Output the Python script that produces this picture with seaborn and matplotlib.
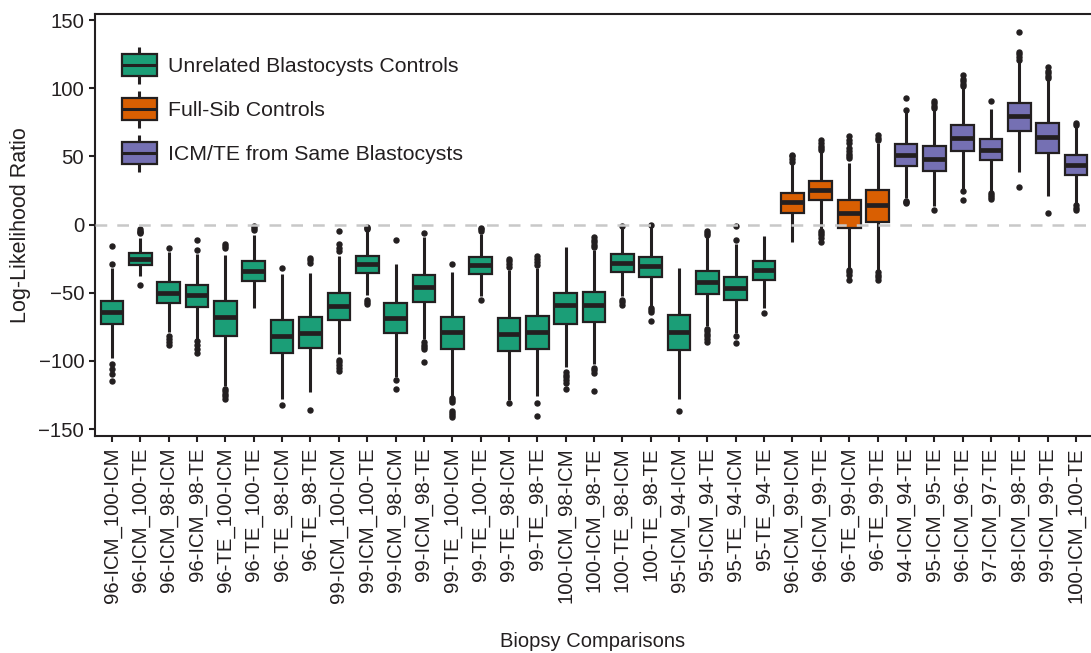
import matplotlib
matplotlib.use("Agg")
import matplotlib.pyplot as plt
from matplotlib.legend_handler import HandlerBase
from matplotlib.patches import Patch, Rectangle
from matplotlib.lines import Line2D
import pandas as pd
import seaborn as sns

# ------------------ DATA ------------------
labels = ["96-ICM_100-ICM", "96-ICM_100-TE", "96-ICM_98-ICM", "96-ICM_98-TE",
          "96-TE_100-ICM", "96-TE_100-TE", "96-TE_98-ICM", "96-TE_98-TE",
          "99-ICM_100-ICM", "99-ICM_100-TE", "99-ICM_98-ICM", "99-ICM_98-TE",
          "99-TE_100-ICM", "99-TE_100-TE", "99-TE_98-ICM", "99-TE_98-TE",
          "100-ICM_98-ICM", "100-ICM_98-TE", "100-TE_98-ICM", "100-TE_98-TE",
          "95-ICM_94-ICM", "95-ICM_94-TE", "95-TE_94-ICM", "95-TE_94-TE",
          "96-ICM_99-ICM", "96-ICM_99-TE", "96-TE_99-ICM", "96-TE_99-TE",
          "94-ICM_94-TE", "95-ICM_95-TE", "96-ICM_96-TE", "97-ICM_97-TE",
          "98-ICM_98-TE", "99-ICM_99-TE", "100-ICM_100-TE"]

group_names = ["Unrelated Blastocysts Controls", "Full-Sib Controls",
               "ICM/TE from Same Blastocysts"]
groups = [group_names[0]] * 24 + [group_names[1]] * 4 + [group_names[2]] * 7

whisk_lo = [-97.6, -37.8, -79, -84, -118.3, -61, -127.6, -122.5, -95.2, -52,
            -111.5, -84.2, -125.7, -52.5, -129, -125.7, -104.2, -102.5, -52.5, -59.8,
            -127.6, -74.4, -79.3, -61, -13, -3.2, -32.4, -34,
            19.5, 13.4, 26.1, 24.4, 38.3, 20.7, 15.4]
q1 = [-73.2, -29.8, -57.8, -60.3, -81.8, -41.5, -94, -90.8, -70, -35.4,
      -79.3, -56.6, -91.5, -35.9, -93, -91.5, -73.2, -71.5, -34.9, -38.6,
      -92, -50.7, -55.4, -41, 8.6, 17.8, -2.4, 1.7,
      42.7, 39, 53.7, 47.1, 69, 52.5, 36.1]
med = [-63.9, -24.9, -50, -52, -67.8, -34.2, -81.7, -79.8, -59.8, -28.6,
       -68.3, -45.9, -78.8, -29.3, -80, -78.8, -59.3, -58.8, -28, -30.5,
       -78.8, -42.2, -46.3, -33.4, 16.6, 25.1, 8.6, 14.1,
       50.7, 48.1, 63.5, 54.9, 79.3, 64.6, 43.4]
q3 = [-56.1, -20.7, -42.2, -44.2, -56.4, -27, -70.3, -67.6, -50.5, -22.7,
      -57.3, -36.8, -67.8, -23.7, -68.6, -66.9, -50.5, -49.5, -21.5, -23.7,
      -66.6, -33.7, -38.3, -26.4, 23.2, 32.2, 17.8, 25.6,
      59.1, 57.3, 72.7, 62.7, 89.5, 74.2, 50.7]
whisk_hi = [-32.2, -9.8, -20, -21.5, -22, -7.3, -35.9, -35.4, -23.2, -5,
            -28.8, -9, -34.6, -7, -33.4, -32, -16.6, -18.3, -2.4, -2,
            -31.7, -8.5, -14.6, -8.5, 44.5, 53.5, 45.2, 59.8,
            82.9, 84.2, 100, 84.7, 119.5, 106.1, 72]
outliers = [
    [-15.9, -28.8, -102.5, -106.1, -109.8, -114.7],
    [-3.5, -4.5, -5.5, -6.5, -44],
    [-17.5, -82, -84, -86, -88],
    [-11.5, -18.3, -85.5, -88, -91, -94.4],
    [-14.6, -16, -17.5, -120.5, -122, -124, -126, -128],
    [-1.2, -2.5, -4],
    [-32.2, -132.3],
    [-24.2, -26, -27.9, -135.9],
    [-4.9, -14.6, -17, -19.5, -99.5, -101, -103, -105, -107.4],
    [-1.5, -2.5, -3.3, -55, -56.5, -58.6],
    [-11.5, -114, -120.8],
    [-6.5, -86.5, -88, -90, -91.5, -101],
    [-28.6, -127.5, -129, -130.5, -136.7, -138.5, -140, -141.5],
    [-2.4, -3.5, -4.5, -55.4],
    [-25.1, -27, -29, -31, -131],
    [-22.7, -25, -27.5, -29.5, -131, -140.3],
    [-108.1, -110, -112, -114, -115.9, -120.3],
    [-9, -11, -13, -15, -16.2, -105, -106.5, -108.6, -122],
    [-0.8, -55.5, -57, -59.3],
    [-0.3, -61.5, -63, -64.2, -71],
    [-136.7],
    [-4.4, -6, -7.5, -76.5, -78, -80, -82, -84, -86.1],
    [-0.7, -11.5, -81.5, -87.1],
    [-65.2],
    [46, 48, 50, 51.2],
    [54.5, 56, 58, 60, 62.2, -4.5, -6, -8, -10, -13],
    [48.5, 50, 52, 54, 56, 60, 62, 65.2, -33.5, -35, -37, -40.3],
    [62, 63.5, 65.9, -35, -37, -38.5, -40.3],
    [84, 92.7, 17.5, 16.5, 15.9],
    [85.5, 87, 89, 90.8, 11],
    [101.5, 103, 105, 107, 109.8, 24.8, 18.3],
    [90.8, 23, 21.5, 20, 18.8],
    [121, 123, 125, 126.9, 141.3, 27.6],
    [107.5, 109, 111, 113, 115.9, 8.6],
    [73, 74.5, 14, 12.5, 10.5],
]

colors = ["#1b9e77", "#d95f02", "#7570b3"]
ink = "#231f20"

# long-form table whose quartiles / whisker ends / outliers reproduce the summaries
rows = []
for i, lab in enumerate(labels):
    vals = ([whisk_lo[i], whisk_hi[i]] + [q1[i]] * 100 + [med[i]] * 100
            + [q3[i]] * 100 + outliers[i])
    for v in vals:
        rows.append((lab, groups[i], v))
df = pd.DataFrame(rows, columns=["Comparison", "Group", "LLR"])


class BoxGlyph(HandlerBase):
    """Legend key drawn as a tiny box with whiskers and median."""
    def create_artists(self, legend, orig_handle, xdescent, ydescent,
                       width, height, fontsize, trans):
        cx = -xdescent + width / 2
        cy = -ydescent + height / 2
        bh = 15.8
        whisker = Line2D([cx, cx], [cy - height / 2, cy + height / 2], color=ink,
                         lw=2.2, solid_capstyle="butt", transform=trans)
        box = Rectangle((cx - width / 2, cy - bh / 2), width, bh,
                        facecolor=orig_handle.get_facecolor(), edgecolor=ink,
                        lw=1.6, transform=trans)
        median = Line2D([cx - width / 2, cx + width / 2], [cy, cy], color=ink,
                        lw=2.2, solid_capstyle="butt", transform=trans)
        return [whisker, box, median]


# ------------------ PLOTTING ------------------
sns.set_style("ticks")
plt.rcParams["font.family"] = ["Liberation Sans", "DejaVu Sans"]
plt.rcParams["text.color"] = ink
plt.rcParams["axes.labelcolor"] = ink
plt.rcParams["xtick.color"] = ink
plt.rcParams["ytick.color"] = ink

fig, ax = plt.subplots(figsize=(10.91, 6.53), dpi=100)
fig.subplots_adjust(left=0.0871, right=1.0, top=0.9786, bottom=0.3323)

sns.boxplot(data=df, x="Comparison", y="LLR", hue="Group", order=labels,
            hue_order=group_names, palette=colors, dodge=False, width=0.8,
            saturation=1, linecolor=ink, linewidth=1.6, fliersize=3.6,
            showcaps=False, legend=False,
            medianprops=dict(linewidth=3.4, color=ink),
            whiskerprops=dict(linewidth=2.2, color=ink),
            flierprops=dict(marker="o", markerfacecolor=ink, markeredgecolor=ink),
            ax=ax)

ax.axhline(0, color="#c8c8c8", lw=1.8, ls=(0, (4.7, 4.0)), zorder=4)

ax.set_xlim(-0.6, 34.53)
ax.set_ylim(-155.1, 154.5)
ax.set_yticks([-150, -100, -50, 0, 50, 100, 150])
ax.tick_params(axis="x", rotation=90, labelsize=14.7, length=4.3, width=1.5, pad=4)
ax.tick_params(axis="y", labelsize=14.7, length=4.3, width=1.5, pad=3.5)
ax.set_xlabel("Biopsy Comparisons", fontsize=14.5, labelpad=21)
ax.set_ylabel("Log-Likelihood Ratio", fontsize=15.5, labelpad=5)
for s in ["left", "bottom", "top"]:
    ax.spines[s].set_linewidth(1.5)
    ax.spines[s].set_color(ink)
ax.spines["right"].set_visible(False)

handles = [Patch(facecolor=c) for c in colors]
ax.legend(handles, group_names, handler_map={Patch: BoxGlyph()},
          loc="upper left", bbox_to_anchor=(0.027, 0.9225), frameon=False,
          fontsize=15.3, handlelength=1.65, handleheight=2.3, handletextpad=0.52,
          labelspacing=0.33, borderpad=0, borderaxespad=0)

fig.savefig("out.png", dpi=100)
